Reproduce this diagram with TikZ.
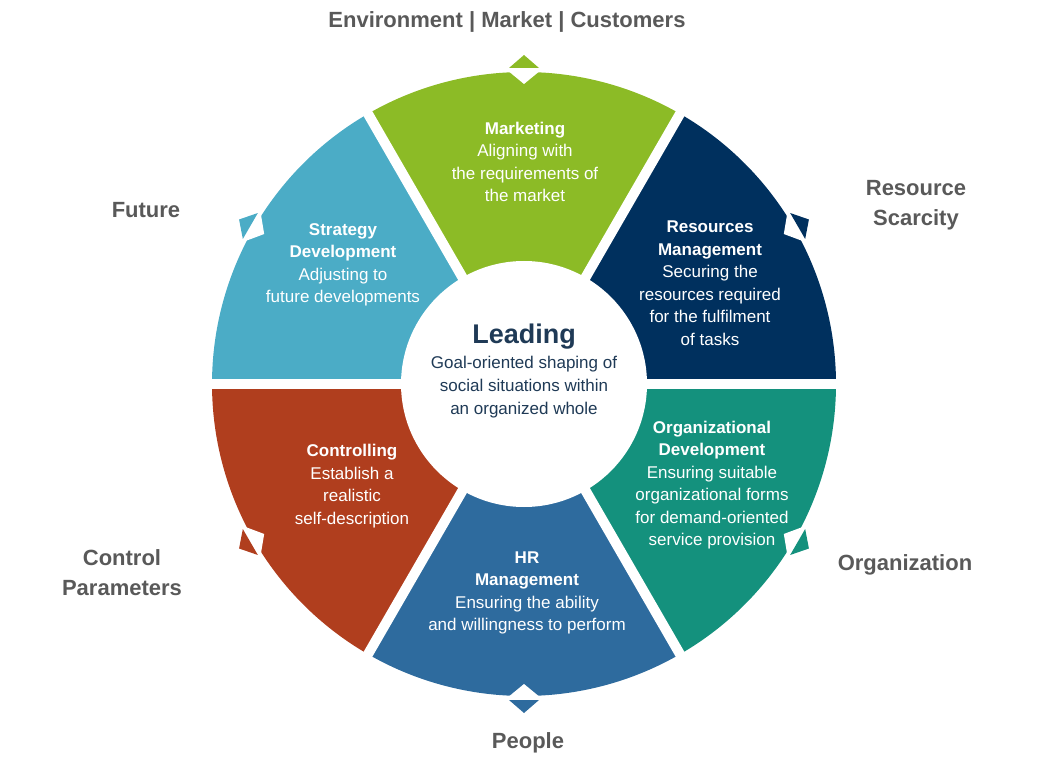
\documentclass[tikz,border=0pt]{standalone}
\usepackage{fontspec}
\setmainfont{Liberation Sans}
\definecolor{cgreen}{HTML}{8CBB26}
\definecolor{cnavy}{HTML}{00305E}
\definecolor{cteal}{HTML}{14917D}
\definecolor{cblue}{HTML}{2E6B9E}
\definecolor{crust}{HTML}{B03E1E}
\definecolor{clight}{HTML}{4BACC6}
\definecolor{cgray}{HTML}{595959}
\definecolor{cdark}{HTML}{1F3A56}
\begin{document}
\begin{tikzpicture}[x=1pt,y=1pt,
  seg/.style={text=white,align=center,font=\fontsize{17}{22.5}\selectfont},
  outer/.style={text=cgray,align=center,font=\fontsize{22}{30}\selectfont\bfseries}]
\useasboundingbox (0,0) rectangle (1060,772);
\coordinate (c) at (524,388);
\def\R{312}
\foreach \a/\col in {0/cnavy,60/cgreen,120/clight,180/crust,240/cblue,300/cteal}{
  \fill[\col] (c) -- ++(\a:\R) arc[start angle=\a,end angle=\a+60,radius=\R] -- cycle;
}
\foreach \a in {0,60,...,300}{
  \draw[white,line width=10pt] (c) -- ++(\a:\R+5);
}
\foreach \a/\col in {30/cnavy,90/cgreen,150/clight,210/crust,270/cblue,330/cteal}{
  \begin{scope}[shift={(c)},rotate=\a-90]
    \fill[white] (-17,\R+2) -- (17,\R+2) -- (0,\R-12) -- cycle;
    \fill[\col] (-15,\R+4) -- (15,\R+4) -- (0,\R+17) -- cycle;
  \end{scope}
}
\fill[white] (c) circle[radius=123];
\node[seg] (mk) at (525,610) {\textbf{Marketing}\\Aligning with\\the requirements of\\the market};
\node[seg] (rm) at (710,489) {\textbf{Resources}\\\textbf{Management}\\Securing the\\resources required\\for the fulfilment\\of tasks};
\node[seg] (sd) at (343,507) {\textbf{Strategy}\\\textbf{Development}\\Adjusting to\\future developments};
\node[seg] (od) at (712,287) {\textbf{Organizational}\\\textbf{Development}\\Ensuring suitable\\organizational forms\\for demand-oriented\\service provision};
\node[seg] (ct) at (352,286) {\textbf{Controlling}\\Establish a\\realistic\\self-description};
\node[seg] (hr) at (527,179) {\textbf{HR}\\\textbf{Management}\\Ensuring the ability\\and willingness to perform};
\node[text=cdark,font=\fontsize{27}{30}\selectfont\bfseries] (ld) at (524,435) {Leading};
\node[text=cdark,align=center,font=\fontsize{17}{23}\selectfont] (ldt) at (524,385) {Goal-oriented shaping of\\social situations within\\an organized whole};
\node[outer] (o1) at (507,750) {Environment | Market | Customers};
\node[outer] (o2) at (916,567) {Resource\\Scarcity};
\node[outer] (o3) at (146,562) {Future};
\node[outer] (o4) at (905,207) {Organization};
\node[outer] (o5) at (122,199) {Control\\Parameters};
\node[outer] (o6) at (528,29) {People};
\end{tikzpicture}
\end{document}
